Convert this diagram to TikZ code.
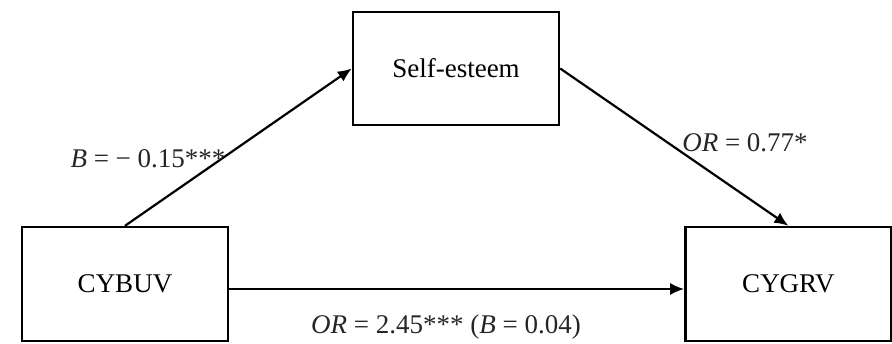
\documentclass[tikz,border=0pt]{standalone}
\usepackage{fontspec}
\setmainfont{Liberation Serif}
\usepackage{xcolor}
\usetikzlibrary{arrows.meta,positioning}

\begin{document}
\begin{tikzpicture}[
  font=\fontsize{13.5}{16}\selectfont,
  >={Latex[length=7pt,width=6pt]},
  % Block styles
  varbox/.style={
    draw, line width=1.2pt, fill=white,
    minimum width=103pt, minimum height=57pt, align=center
  },
  arrow/.style={->, line width=1.1pt},
  coef/.style={text=black!85, inner sep=1pt}
]

% ── Canvas ───────────────────────────────────────────────────────────────────
\useasboundingbox (0,0) rectangle (446pt,171.5pt);

% ── Variables ────────────────────────────────────────────────────────────────
\node[varbox] (cybuv) at (62.5pt,29.5pt) {CYBUV};
\node[varbox, right=227.5pt of cybuv] (cygrv) {CYGRV};
\node[varbox, minimum height=56.5pt] (esteem) at (228pt,137.25pt) {Self-esteem};

% ── Paths ────────────────────────────────────────────────────────────────────
\draw[arrow] (cybuv.north) -- (esteem.west);
\draw[arrow] (esteem.east) -- (cygrv.north);
\draw[arrow] ([yshift=-2.5pt]cybuv.east) -- ([yshift=-2.5pt]cygrv.west);

% ── Coefficients ─────────────────────────────────────────────────────────────
\node[coef] (a) at (74pt,92pt) {\textit{B} = − 0.15***};
\node[coef] (b) at (372.5pt,100pt) {\textit{OR} = 0.77*};
\node[coef] (c) at (223pt,8pt) {\textit{OR} = 2.45*** (\textit{B} = 0.04)};

\end{tikzpicture}
\end{document}
